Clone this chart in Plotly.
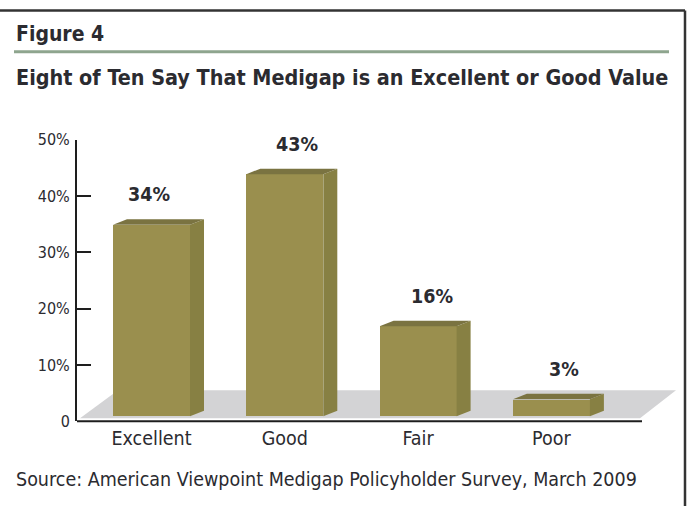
import plotly.graph_objects as go

# Survey result: rating of Medigap value
categories = ["Excellent", "Good", "Fair", "Poor"]
shares = [34, 43, 16, 3]          # percent of respondents
tick_values = [0, 10, 20, 30, 40, 50]
tick_labels = ["0", "10%", "20%", "30%", "40%", "50%"]

W, H = 687, 506
NARROW = "Liberation Sans Narrow, Arial Narrow, DejaVu Sans Condensed, sans-serif"
TXT = "#2b2b30"
FRONT = "#9a8f4e"
SIDE = "#878043"
TOP = "#7a7341"
FLOOR = "#d3d3d5"

# vertical placement of the paper inside the viewer
PAGE_OFF, PAGE_SCALE = 8.4, 0.961


def fy(py):
    """screen row -> paper fraction"""
    return 1 - ((py - PAGE_OFF) / PAGE_SCALE) / H


def fx(px):
    """screen column -> paper fraction"""
    return px / W


# plot-area geometry (screen pixels)
AX_LEFT, Y0_PX, Y50_PX = 77, 420, 139
CENTER0_PX, STEP_PX = 151.5, 133.3
px_per_pct = (Y0_PX - Y50_PX) / 50.0


def xu(px):
    """screen column -> category-axis units"""
    return (px - CENTER0_PX) / STEP_PX


def yu(px):
    """screen row -> percent-axis units"""
    return (Y0_PX - px) / px_per_pct


x_range = [xu(AX_LEFT), xu(W)]
bar_w = 77 / STEP_PX
depth_x = 14 / STEP_PX
depth_y = 5.5 / px_per_pct
base = yu(415)

xs = list(range(len(categories)))

fig = go.Figure()
fig.add_trace(go.Bar(
    x=xs, y=shares, base=base, width=bar_w,
    marker=dict(color=FRONT, line=dict(width=0)),
    hoverinfo="skip", showlegend=False,
))

shapes = []
# grey floor under the bars
fl_b, fl_t = yu(417), yu(389)
shapes.append(dict(
    type="path", xref="x", yref="y", layer="below",
    path=f"M {xu(80)},{fl_b} L {xu(118)},{fl_t} L {xu(676)},{fl_t} L {xu(640)},{fl_b} Z",
    fillcolor=FLOOR, line=dict(width=0),
))
# side and top faces of each bar
for x, v in zip(xs, shares):
    xl, xr = x - bar_w / 2, x + bar_w / 2
    t = base + v
    shapes.append(dict(
        type="path", xref="x", yref="y", layer="above",
        path=f"M {xr},{base} L {xr},{t} L {xr + depth_x},{t + depth_y} L {xr + depth_x},{base + depth_y} Z",
        fillcolor=SIDE, line=dict(width=0),
    ))
    shapes.append(dict(
        type="path", xref="x", yref="y", layer="above",
        path=f"M {xl},{t} L {xr},{t} L {xr + depth_x},{t + depth_y} L {xl + depth_x},{t + depth_y} Z",
        fillcolor=TOP, line=dict(width=0),
    ))
# baseline
shapes.append(dict(
    type="line", xref="x", yref="paper",
    x0=xu(AX_LEFT), x1=xu(642), y0=fy(Y0_PX), y1=fy(Y0_PX),
    line=dict(color="#1e1e1e", width=2),
))
# header rule and frame
shapes.append(dict(
    type="line", xref="paper", yref="paper",
    x0=fx(14), x1=fx(669), y0=fy(51), y1=fy(51),
    line=dict(color="#8ea58e", width=3),
))
shapes.append(dict(
    type="line", xref="paper", yref="paper",
    x0=0, x1=fx(685), y0=fy(10), y1=fy(10),
    line=dict(color="#333333", width=2.5),
))
shapes.append(dict(
    type="line", xref="paper", yref="paper",
    x0=fx(685), x1=fx(685), y0=fy(10), y1=-0.05,
    line=dict(color="#333333", width=2.5),
))

annotations = []
label_dx = [-3, 12, 14, 13]
for x, v, dx in zip(xs, shares, label_dx):
    annotations.append(dict(
        x=x, y=base + v, xref="x", yref="y", text=f"{v}%",
        showarrow=False, xanchor="center", yanchor="middle",
        xshift=dx, yshift=30,
        font=dict(family=NARROW, size=19.5, color=TXT, weight="bold"),
    ))
annotations.append(dict(
    x=fx(14), y=fy(33), xref="paper", yref="paper", text="Figure 4",
    showarrow=False, xanchor="left", yanchor="middle",
    font=dict(family=NARROW, size=21, color=TXT, weight="bold"),
))
annotations.append(dict(
    x=fx(14), y=fy(77), xref="paper", yref="paper",
    text="Eight of Ten Say That Medigap is an Excellent or Good Value",
    showarrow=False, xanchor="left", yanchor="middle",
    font=dict(family=NARROW, size=21.4, color=TXT, weight="bold"),
))
annotations.append(dict(
    x=fx(14), y=fy(478), xref="paper", yref="paper",
    text="Source: American Viewpoint Medigap Policyholder Survey, March 2009",
    showarrow=False, xanchor="left", yanchor="middle",
    font=dict(family=NARROW, size=19.5, color=TXT),
))

fig.update_layout(
    width=W, height=H,
    margin=dict(l=0, r=0, t=0, b=0),
    paper_bgcolor="white", plot_bgcolor="rgba(0,0,0,0)",
    shapes=shapes, annotations=annotations,
    bargap=0,
    xaxis=dict(
        domain=[fx(AX_LEFT), 1], range=x_range,
        showgrid=False, zeroline=False, showline=False,
        tickvals=xs, ticktext=categories, ticks="",
        tickfont=dict(family=NARROW, size=19.5, color=TXT),
        ticklabelstandoff=3,
    ),
    yaxis=dict(
        domain=[fy(Y0_PX), fy(Y50_PX)], range=[0, 50],
        showgrid=False, zeroline=False,
        showline=True, linecolor="#1e1e1e", linewidth=2,
        ticks="inside", ticklen=14, tickwidth=2, tickcolor="#1e1e1e",
        tickvals=tick_values, ticktext=tick_labels,
        tickfont=dict(family=NARROW, size=16, color=TXT),
        ticklabelstandoff=2,
    ),
)

fig.write_html("out.html")
